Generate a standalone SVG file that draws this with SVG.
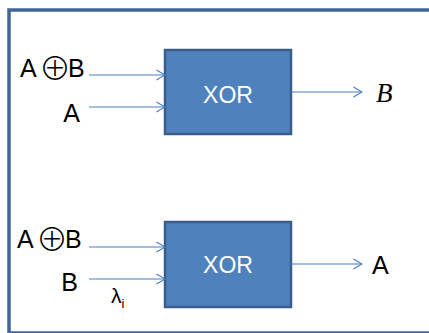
<svg xmlns="http://www.w3.org/2000/svg" width="429" height="333" viewBox="0 0 429 333">
<defs>
<style>
.frame{fill:none;stroke:#41679A;stroke-width:3.5}
.box{fill:#4F81BD;stroke:#385D8A;stroke-width:2.5}
.boxt{font-family:"Liberation Sans","DejaVu Sans",sans-serif;font-size:23px;fill:#FFFFFF;text-anchor:middle}
.lbl{font-family:"Liberation Sans","DejaVu Sans",sans-serif;font-size:25px;fill:#000000}
.op{font-family:"Noto Sans CJK SC","DejaVu Sans",sans-serif;font-size:32px;font-weight:300}
.conn{stroke:#4A7EBB;stroke-width:1.2;fill:none}
</style>
<marker id="ah" viewBox="0 0 10 12" refX="9.5" refY="6" markerWidth="10" markerHeight="12" markerUnits="userSpaceOnUse" orient="auto">
<path d="M1,1 L9.5,6 L1,11" fill="none" stroke="#4A7EBB" stroke-width="1.2"/>
</marker>
</defs>
<rect class="frame" x="9" y="10" width="432" height="323"/>
<g id="xor1">
<rect class="box" x="165" y="50" width="126" height="84"/>
<text class="boxt" x="228" y="103">XOR</text>
</g>
<g id="xor2">
<rect class="box" x="165" y="222" width="126" height="85"/>
<text class="boxt" x="228" y="273">XOR</text>
</g>
<g id="labels">
<text class="lbl" x="20" y="77">A<tspan class="op" x="39" y="80">⊕</tspan><tspan x="68" y="77">B</tspan></text>
<text class="lbl" x="80" y="122" text-anchor="end">A</text>
<text x="376" y="102" font-family="Liberation Serif,serif" font-style="italic" font-size="27">B</text>
<text class="lbl" x="17" y="248">A<tspan class="op" x="36" y="251">⊕</tspan><tspan x="65" y="248">B</tspan></text>
<text class="lbl" x="78" y="291" text-anchor="end">B</text>
<text x="111" y="303" font-family="Liberation Sans,sans-serif" font-size="21">λ<tspan font-size="13" dy="5">i</tspan></text>
<text class="lbl" x="372" y="274" font-size="23">A</text>
</g>
<g id="connectors">
<line class="conn" x1="89" y1="75" x2="165" y2="75" marker-end="url(#ah)"/>
<line class="conn" x1="89" y1="107" x2="165" y2="107" marker-end="url(#ah)"/>
<line class="conn" x1="291" y1="92" x2="362" y2="92" marker-end="url(#ah)"/>
<line class="conn" x1="89" y1="247" x2="165" y2="247" marker-end="url(#ah)"/>
<line class="conn" x1="89" y1="279" x2="165" y2="279" marker-end="url(#ah)"/>
<line class="conn" x1="291" y1="264" x2="362" y2="264" marker-end="url(#ah)"/>
</g>
</svg>
